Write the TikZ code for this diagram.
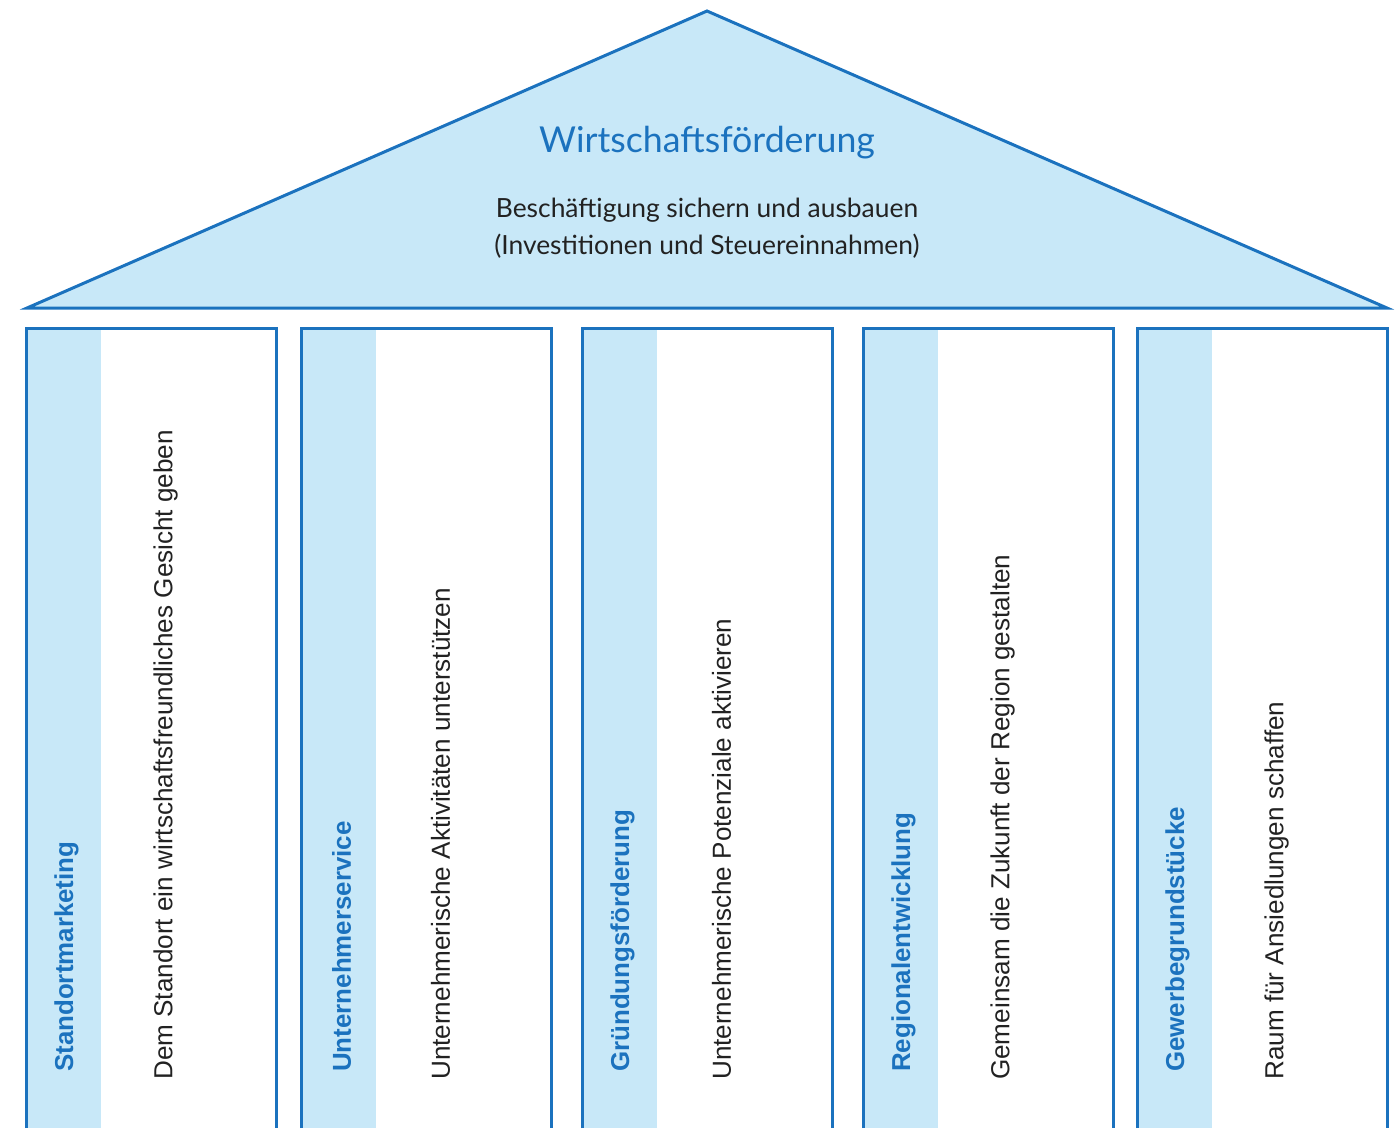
\documentclass[tikz,border=0pt]{standalone}
\usepackage{fontspec}
\setmainfont{Liberation Sans}
\newfontfamily\titlefont{Lato}
\definecolor{roofblue}{HTML}{C8E8F8}
\definecolor{lineblue}{HTML}{1B72BE}
\definecolor{txtdark}{HTML}{222222}
\begin{document}
\begin{tikzpicture}[x=1pt,y=-1pt,
  outline/.style={draw=lineblue,line width=3pt},
  strip/.style={fill=roofblue,draw=none},
  pillarlabel/.style={rotate=90,anchor=west,inner sep=0pt,text=lineblue,font=\bfseries\fontsize{25.9}{30}\selectfont},
  pillardesc/.style={rotate=90,anchor=west,inner sep=0pt,text=txtdark,font=\fontsize{26.1}{30}\selectfont}]
\useasboundingbox (0,0) rectangle (1397,1128);
% roof
\coordinate (apex) at (707,11);
\coordinate (eaveL) at (27,308);
\coordinate (eaveR) at (1387,308);
\filldraw[fill=roofblue,draw=lineblue,line width=3pt,line join=miter] (eaveL) -- (apex) -- (eaveR) -- cycle;
\node[text=lineblue,font=\titlefont\fontsize{35.7}{40}\selectfont,inner sep=0pt] (title) at (707,143) {Wirtschaftsförderung};
\node[text=txtdark,font=\titlefont\fontsize{26.4}{37}\selectfont,align=center,inner sep=0pt] (subtitle) at (707,228) {Beschäftigung sichern und ausbauen\\(Investitionen und Steuereinnahmen)};
% pillars
\foreach \x/\name/\lab/\desc in {
  26.5/p1/Standortmarketing/Dem Standort ein wirtschaftsfreundliches Gesicht geben,
  301.5/p2/Unternehmerservice/Unternehmerische Aktivitäten unterstützen,
  582.5/p3/Gründungsförderung/Unternehmerische Potenziale aktivieren,
  863.5/p4/Regionalentwicklung/Gemeinsam die Zukunft der Region gestalten,
  1137.5/p5/Gewerbegrundstücke/Raum für Ansiedlungen schaffen}{
  \fill[strip] (\x,328) rectangle (\x+74,1128);
  \draw[outline] (\x,1128) -- (\x,328) -- (\x+250,328) -- (\x+250,1128);
  \node[pillarlabel] (\name lab) at (\x+40,1072) {\lab};
  \node[pillardesc] (\name desc) at (\x+139,1080) {\desc};
}
\end{tikzpicture}
\end{document}
